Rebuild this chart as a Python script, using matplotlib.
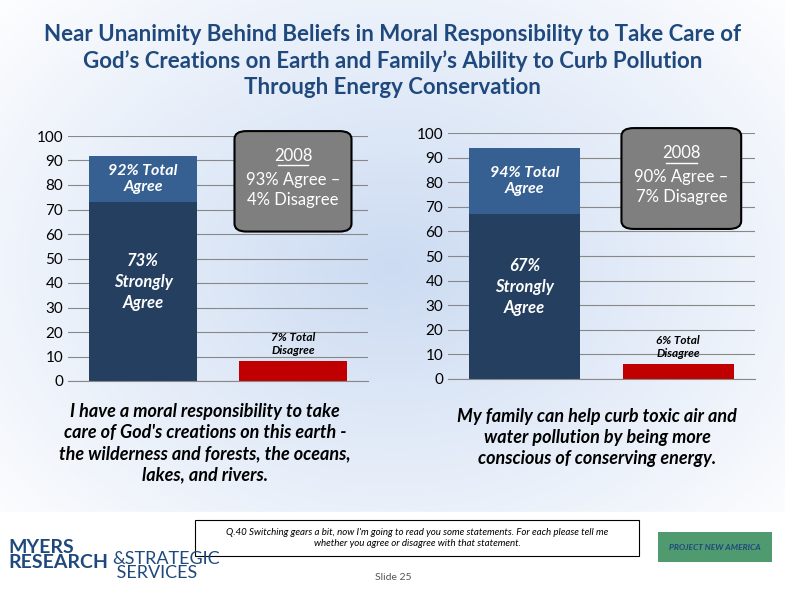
import matplotlib
matplotlib.use("Agg")
import matplotlib.pyplot as plt
import numpy as np
from matplotlib.patches import FancyBboxPatch, Rectangle

plt.rcParams['font.family'] = ['Lato', 'DejaVu Sans']

charts = ["left", "right"]
strong = [73, 67]
total_agree = [92, 94]
disagree = [8, 6]
agree_lbl = ["92% Total\nAgree", "94% Total\nAgree"]
strong_lbl = ["73%\nStrongly\nAgree", "67%\nStrongly\nAgree"]
dis_lbl = ["7% Total\nDisagree", "6% Total\nDisagree"]
box_lbl = [("2008", "93% Agree –\n4% Disagree"), ("2008", "90% Agree –\n7% Disagree")]
captions = ["I have a moral responsibility to take\ncare of God's creations on this earth -\nthe wilderness and forests, the oceans,\nlakes, and rivers.",
            "My family can help curb toxic air and\nwater pollution by being more\nconscious of conserving energy."]
yticks = list(range(0, 101, 10))

W, H = 785, 593
fig = plt.figure(figsize=(W/100, H/100), dpi=100)
bg = fig.add_axes([0, 0, 1, 1])
yy, xx = np.mgrid[0:H, 0:W]
d = np.sqrt(((xx-W/2)/W)**2 + ((yy-H*0.45)/H)**2)
g = np.clip(d/0.7, 0, 1)
c0 = np.array([0.80, 0.86, 0.95]); c1 = np.array([1, 1, 1])
img = c0[None, None, :]*(1-g[..., None]) + c1[None, None, :]*g[..., None]
bg.imshow(img, extent=[0, W, H, 0], aspect='auto')
bg.set_xlim(0, W); bg.set_ylim(H, 0); bg.axis('off')
bg.add_patch(Rectangle((0, 512), W, 81, color='white'))

fig.text(0.5, 1-24/H, "Near Unanimity Behind Beliefs in Moral Responsibility to Take Care of\nGod’s Creations on Earth and Family’s Ability to Curb Pollution\nThrough Energy Conservation",
         ha='center', va='top', fontsize=16, color='#1f497d', fontweight='bold', linespacing=1.3)

pos = [(68, 136, 300, 245), (448, 133, 307, 246)]
dark = '#243f60'; mid = '#366092'; red = '#c00000'
for i in range(2):
    x0, y0, w, h = pos[i]
    ax = fig.add_axes([x0/W, 1-(y0+h)/H, w/W, h/H])
    ax.set_facecolor('none')
    ax.set_ylim(0, 100); ax.set_xlim(-0.5, 1.5)
    ax.set_yticks(yticks)
    ax.tick_params(axis='y', labelsize=11, length=0)
    ax.set_xticks([])
    ax.grid(axis='y', color='#888888', lw=0.8)
    ax.set_axisbelow(True)
    for s in ['top', 'right', 'left']:
        ax.spines[s].set_visible(False)
    ax.spines['bottom'].set_color('#888888')
    ax.bar(0, strong[i], width=0.72, color=dark)
    ax.bar(0, total_agree[i]-strong[i], bottom=strong[i], width=0.72, color=mid)
    ax.bar(1, disagree[i], width=0.72, color=red)
    ax.text(0, (strong[i]+total_agree[i])/2, agree_lbl[i], ha='center', va='center', color='white', fontsize=11.5, style='italic', fontweight='bold')
    ax.text(0, strong[i]/2+4, strong_lbl[i], ha='center', va='center', color='white', fontsize=12, style='italic', fontweight='bold', linespacing=1.4)
    ax.text(1, disagree[i]+7, dis_lbl[i], ha='center', va='center', color='black', fontsize=8.5, style='italic', fontweight='bold')
    bx = 1 if i == 0 else 1.02
    ax.add_patch(FancyBboxPatch((bx-0.39, 61), 0.78, 41, boxstyle="round,pad=0,rounding_size=0.08", mutation_aspect=40,
                                facecolor='#7f7f7f', edgecolor='black', lw=1.5, clip_on=False, zorder=5))
    ax.text(bx, 92, box_lbl[i][0], ha='center', va='center', color='white', fontsize=12, zorder=6)
    ax.plot([bx-0.1, bx+0.1], [88, 88], color='white', lw=1, zorder=6)
    ax.text(bx, 78, box_lbl[i][1], ha='center', va='center', color='white', fontsize=12, zorder=6, linespacing=1.3)

fig.text(205/W, 1-403/H, captions[0], ha='center', va='top', fontsize=13, style='italic', fontweight='bold', linespacing=1.3)
fig.text(597/W, 1-408/H, captions[1], ha='center', va='top', fontsize=13, style='italic', fontweight='bold', linespacing=1.3)

bg.add_patch(Rectangle((195, 520), 444, 36, facecolor='white', edgecolor='black', lw=0.8))
bg.text(417, 538, "Q.40 Switching gears a bit, now I'm going to read you some statements. For each please tell me\nwhether you agree or disagree with that statement.",
        ha='center', va='center', fontsize=7, style='italic')
bg.text(393, 578, "Slide 25", ha='center', va='center', fontsize=7.5, color='#555555')
bg.text(8, 555, "MYERS\nRESEARCH", ha='left', va='center', fontsize=14, fontweight='bold', color='#1f497d', linespacing=0.85)
bg.text(112, 566, "&STRATEGIC\n SERVICES", ha='left', va='center', fontsize=13, color='#1f497d', linespacing=0.85)
bg.text(715, 547, "PROJECT NEW AMERICA", ha='center', va='center', fontsize=6, fontweight='bold', style='italic', color='#1f497d',
        bbox=dict(facecolor='#4f9a6e', edgecolor='none', pad=8))

fig.savefig("out.png", dpi=100)
